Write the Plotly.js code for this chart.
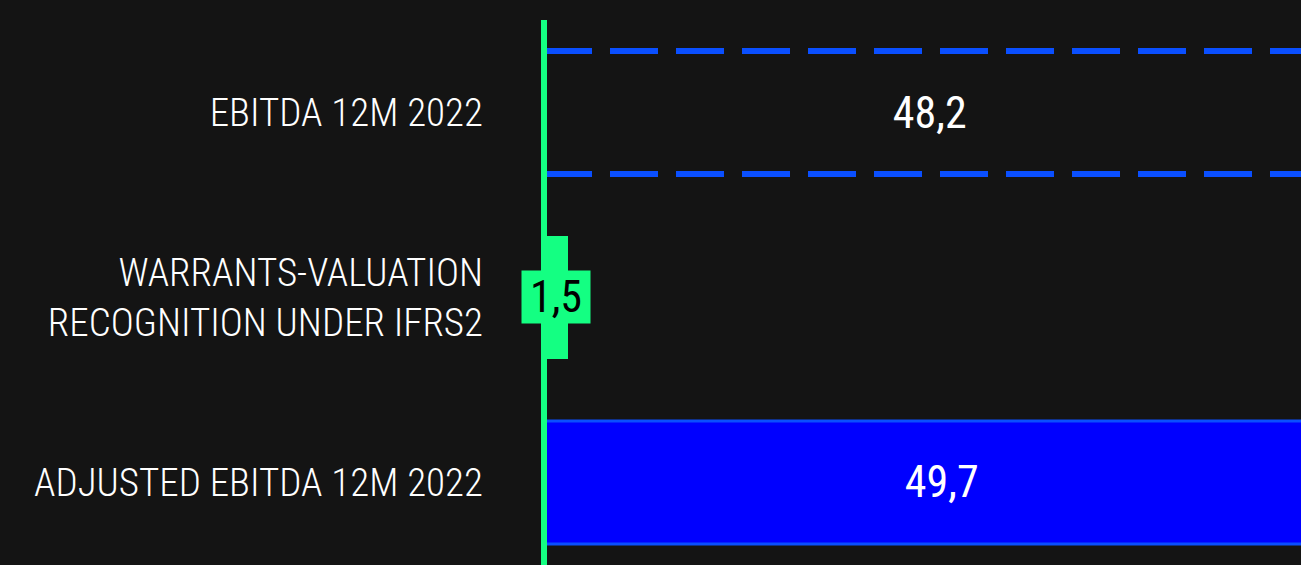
<!DOCTYPE html>
<html>
<head>
<meta charset="utf-8">
<script src="https://cdn.plot.ly/plotly-3.0.1.min.js"></script>
<style>
  html, body { margin: 0; padding: 0; background: #141414; overflow: hidden; }
  #chart { width: 1301px; height: 565px; }
</style>
</head>
<body>
<div id="chart"></div>
<script>
// ---- data ----
const categories = [
  "EBITDA 12M 2022",
  "WARRANTS-VALUATION<br>RECOGNITION UNDER IFRS2",
  "ADJUSTED EBITDA 12M 2022"
];
const values = [48.2, 1.5, 49.7];

// ---- styles ----
const BG = "#141414";
const GREEN = "#14FF82";
const BLUE_LINE = "#0A4FFF";
const BLUE_FILL = "#0000FF";
const LABEL_FONT = "'Roboto Condensed', 'Liberation Sans Narrow', 'DejaVu Sans Condensed', Roboto, sans-serif";
const VALUE_FONT = "'Roboto Condensed', Roboto, 'Liberation Sans', sans-serif";
const BAR_WIDTH = 0.665;

function fmt(v) { return v.toFixed(1).replace(".", ","); }

const barTrace = {
  type: "bar",
  orientation: "h",
  y: categories,
  x: values,
  width: BAR_WIDTH,
  marker: {
    color: ["rgba(0,0,0,0)", GREEN, BLUE_FILL],
    line: { color: ["rgba(0,0,0,0)", GREEN, BLUE_LINE], width: [0, 0, 3] }
  },
  text: [fmt(values[0]), "", fmt(values[2])],
  texttemplate: "%{text}",
  textposition: "inside",
  insidetextanchor: "middle",
  textangle: 0,
  constraintext: "none",
  insidetextfont: { family: VALUE_FONT, size: 44, color: "#ffffff" },
  cliponaxis: true,
  hoverinfo: "skip"
};

const shapes = [
  // dashed outline (top/bottom) of the first bar
  { type: "line", xref: "x", yref: "y", x0: 0, x1: values[0],
    y0: 0 - BAR_WIDTH / 2, y1: 0 - BAR_WIDTH / 2, layer: "below",
    line: { color: BLUE_LINE, width: 6, dash: "48px,18px" } },
  { type: "line", xref: "x", yref: "y", x0: 0, x1: values[0],
    y0: 0 + BAR_WIDTH / 2, y1: 0 + BAR_WIDTH / 2, layer: "below",
    line: { color: BLUE_LINE, width: 6, dash: "48px,18px" } },
  // green zero line (at the plot's left edge, drawn over the bars)
  { type: "line", xref: "paper", yref: "paper", x0: 0, x1: 0, y0: 0, y1: 1,
    layer: "above", line: { color: GREEN, width: 6 } }
];

const annotations = [
  { x: values[1] / 2, y: 1, xref: "x", yref: "y",
    text: fmt(values[1]), showarrow: false,
    bgcolor: GREEN, borderpad: 1, width: 66, height: 50,
    font: { family: VALUE_FONT, size: 44, color: "#000000" } }
];

const layout = {
  width: 1301,
  height: 565,
  paper_bgcolor: BG,
  plot_bgcolor: BG,
  margin: { l: 544, r: 0, t: 20, b: 0, pad: 0 },
  showlegend: false,
  xaxis: {
    range: [0, 47.3],
    visible: false,
    fixedrange: true
  },
  yaxis: {
    type: "category",
    range: [2.446, -0.5],
    showgrid: false,
    zeroline: false,
    showline: false,
    ticks: "",
    ticklabelstandoff: 60,
    tickfont: { family: LABEL_FONT, size: 39, weight: 300, color: "#ffffff" },
    fixedrange: true
  },
  shapes: shapes,
  annotations: annotations,
  font: { family: VALUE_FONT, color: "#ffffff" }
};

Plotly.newPlot("chart", [barTrace], layout, { displayModeBar: false, staticPlot: true });
</script>
</body>
</html>
